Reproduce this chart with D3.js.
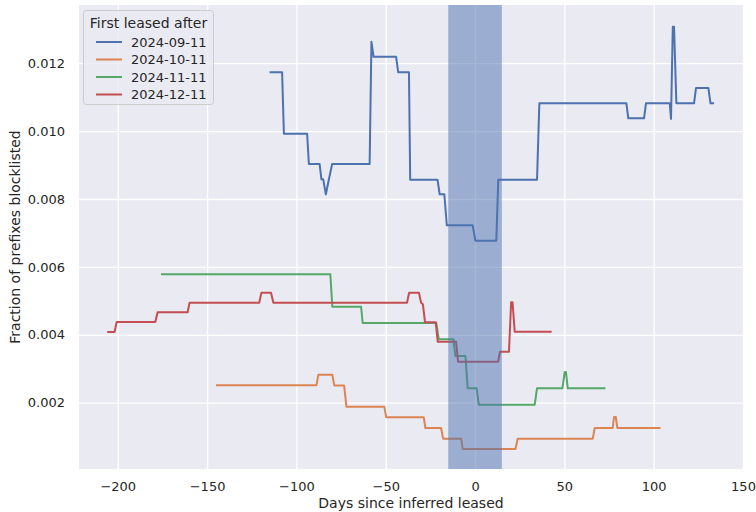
<!DOCTYPE html>
<html><head><meta charset="utf-8">
<script src="https://cdn.jsdelivr.net/npm/d3@7"></script>
<style>
html,body{margin:0;padding:0;background:#fff;}
text{font-family:"DejaVu Sans",sans-serif;fill:#262626;}
</style></head>
<body>
<svg id="c" width="756" height="512"></svg>
<script>
// ---- data ----
const seriesNames = ["2024-09-11","2024-10-11","2024-11-11","2024-12-11"];
const seriesColors = ["#4c72b0","#dd8452","#55a868","#c44e52"];
const legendTitle = "First leased after";
const xTicks = [-200,-150,-100,-50,0,50,100,150];
const yTicks = [0.002,0.004,0.006,0.008,0.010,0.012];
const bandDays = [-15, 15];

const sepDays = [-115,-108,-107,-94,-93,-87,-86,-85,-83.5,-81.8,-80,-59,-58,-56.8,-44.2,-43,-37,-36.3,-21,-19.8,-17.2,-15.8,-1.3,0.2,11.9,13,34.7,36,84.7,85.8,94.6,95.7,109,109.7,110.7,111.4,112.7,122.6,123.7,130.6,131.8,133.8];
const sepVals = [0.01173,0.01173,0.00992,0.00992,0.00903,0.00903,0.00858,0.00858,0.00814,0.00858,0.00903,0.00903,0.01263,0.01219,0.01219,0.01173,0.01173,0.00857,0.00857,0.00814,0.00814,0.007225,0.007225,0.00677,0.00677,0.00857,0.00857,0.01082,0.01082,0.010377,0.010377,0.01082,0.01082,0.01036,0.013075,0.013075,0.01082,0.01082,0.01127,0.01127,0.01082,0.01082];

const octDays = [-145,-88.8,-87.7,-79.9,-78.8,-73.3,-72,-50.8,-49.7,-28.7,-27.8,-19,-17.9,-7.8,-6.9,22.6,23.9,65.9,67,77.1,77.8,78.8,79.7,103.8];
const octVals = [0.002512,0.002512,0.002826,0.002826,0.00251,0.00251,0.001883,0.001883,0.001569,0.001569,0.001255,0.001255,0.00094,0.00094,0.000636,0.000636,0.00094,0.00094,0.001255,0.001255,0.001579,0.001579,0.001255,0.001255];

const novDays = [-175.8,-81,-79.9,-63.8,-62.9,-21.7,-20.3,-12.1,-11,-5.4,-4.1,0.9,2.1,33.4,34.7,48.9,50.2,50.9,51.9,73];
const novVals = [0.005782,0.005782,0.004828,0.004828,0.004348,0.004348,0.003867,0.003867,0.003376,0.003376,0.002424,0.002424,0.001942,0.001942,0.002424,0.002424,0.002904,0.002904,0.002424,0.002424];

const decDays = [-205.9,-201.8,-200.6,-179,-177.7,-160.9,-159.8,-120.8,-119.6,-114.2,-112.9,-38.1,-36.9,-31.4,-30.2,-29.2,-28,-22,-20.9,-10.6,-9.5,12.9,14,19,20.2,21,22.2,42.9];
const decVals = [0.004082,0.004082,0.004377,0.004377,0.004662,0.004662,0.004946,0.004946,0.00524,0.00524,0.004946,0.004946,0.00524,0.00524,0.004946,0.0049,0.004368,0.004368,0.003797,0.003797,0.003208,0.003208,0.003502,0.003502,0.004957,0.004957,0.004092,0.004092];

const seriesDays = [sepDays, octDays, novDays, decDays];
const seriesVals = [sepVals, octVals, novVals, decVals];

// ---- layout ----
const L = 79, R = 743, T = 5, B = 469;
const svg = d3.select("#c");
const x = d3.scaleLinear().domain([-221.7, 150.0]).range([L, R]);
const y = d3.scaleLinear().domain([0.0000471, 0.013714]).range([B, T]);

svg.append("rect").attr("x", L).attr("y", T).attr("width", R - L).attr("height", B - T).attr("fill", "#eaeaf2");

// grid
const gx = svg.append("g").attr("transform", `translate(0,${B})`)
  .call(d3.axisBottom(x).tickValues(xTicks).tickSize(-(B - T)).tickPadding(8)
    .tickFormat(d => d3.format("d")(d).replace("-", "\u2212")));
const gy = svg.append("g").attr("transform", `translate(${L},0)`)
  .call(d3.axisLeft(y).tickValues(yTicks).tickSize(-(R - L)).tickPadding(14)
    .tickFormat(d3.format(".3f")));
[gx, gy].forEach(g => {
  g.select(".domain").remove();
  g.selectAll(".tick line").attr("stroke", "#ffffff").attr("stroke-width", 1.3);
  g.selectAll(".tick text").attr("font-size", 13).attr("fill", "#262626")
   .style("font-family", "DejaVu Sans");
});
gx.selectAll(".tick text").attr("dy", "0.71em").attr("y", 13);

// lines
const line = d3.line().x(d => x(d[0])).y(d => y(d[1]));
seriesDays.forEach((ds, i) => {
  const pts = ds.map((d, j) => [d, seriesVals[i][j]]);
  svg.append("path").attr("d", line(pts)).attr("fill", "none")
    .attr("stroke", seriesColors[i]).attr("stroke-width", 2).attr("stroke-linejoin", "round");
});

// band (over grid, semi transparent)
svg.append("rect").attr("x", x(bandDays[0])).attr("y", T)
  .attr("width", x(bandDays[1]) - x(bandDays[0])).attr("height", B - T)
  .attr("fill", "#4c72b0").attr("fill-opacity", 0.5);

// axis labels
svg.append("text").attr("x", (L + R) / 2).attr("y", 508).attr("text-anchor", "middle")
  .attr("font-size", 14).text("Days since inferred leased");
svg.append("text").attr("transform", `translate(20,${(T + B) / 2}) rotate(-90)`)
  .attr("text-anchor", "middle").attr("font-size", 14).text("Fraction of prefixes blocklisted");

// legend
const lg = svg.append("g");
lg.append("rect").attr("x", 83.5).attr("y", 10.5).attr("width", 130).attr("height", 94).attr("rx", 3)
  .attr("fill", "#eaeaf2").attr("fill-opacity", 0.8).attr("stroke", "#cccccc").attr("stroke-width", 1);
lg.append("text").attr("x", 148.5).attr("y", 28).attr("text-anchor", "middle").attr("font-size", 14).text(legendTitle);
seriesNames.forEach((n, i) => {
  const yy = 42 + i * 17.5;
  lg.append("line").attr("x1", 96).attr("x2", 122).attr("y1", yy).attr("y2", yy)
    .attr("stroke", seriesColors[i]).attr("stroke-width", 2);
  lg.append("text").attr("x", 131).attr("y", yy + 4.5).attr("font-size", 13).text(n);
});
</script>
</body></html>
